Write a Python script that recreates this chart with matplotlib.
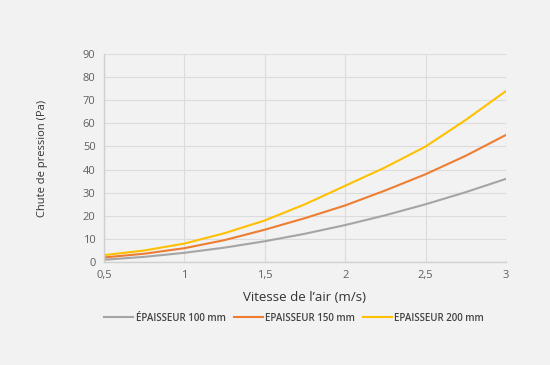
import matplotlib
matplotlib.use("Agg")
import matplotlib.pyplot as plt
import numpy as np

plt.rcParams['font.family'] = ['Open Sans', 'DejaVu Sans']

x = [0.5, 0.75, 1.0, 1.25, 1.5, 1.75, 2.0, 2.25, 2.5, 2.75, 3.0]
y100 = [1.0, 2.25, 4.0, 6.25, 9.0, 12.25, 16.0, 20.25, 25.0, 30.25, 36.0]
y150 = [2.0, 3.6, 6.0, 9.5, 14.0, 19.0, 24.5, 31.0, 38.0, 46.0, 55.0]
y200 = [3.0, 5.0, 8.0, 12.5, 18.0, 25.0, 33.0, 41.0, 50.0, 61.5, 74.0]
labels = ["ÉPAISSEUR 100 mm", "EPAISSEUR 150 mm", "EPAISSEUR 200 mm"]
colors = ["#a5a5a5", "#ed7d31", "#ffc000"]
xticks = [0.5, 1, 1.5, 2, 2.5, 3]
xticklabels = ["0,5", "1", "1,5", "2", "2,5", "3"]
yticks = list(range(0, 100, 10))

bg = "#f2f2f2"
fig = plt.figure(figsize=(5.5, 3.65), dpi=100, facecolor=bg)
ax = fig.add_axes([0.189, 0.282, 0.731, 0.57], facecolor=bg)

for ys, lab, c in zip([y100, y150, y200], labels, colors):
    ax.plot(x, ys, color=c, lw=1.5, label=lab, solid_joinstyle="round")

ax.set_xlim(0.5, 3)
ax.set_ylim(0, 90)
ax.set_xticks(xticks)
ax.set_xticklabels(xticklabels)
ax.set_yticks(yticks)
ax.grid(True, color="#dcdcdc", lw=0.8)
ax.set_axisbelow(True)
for s in ["top", "right"]:
    ax.spines[s].set_visible(False)
for s in ["left", "bottom"]:
    ax.spines[s].set_color("#d0d0d0")
    ax.spines[s].set_linewidth(1.0)
ax.tick_params(length=0, labelsize=8, colors="#606060", pad=6)

ax.set_xlabel("Vitesse de l’air (m/s)", fontsize=9.5, color="#333333", labelpad=7)
ax.set_ylabel("Chute de pression (Pa)", fontsize=8, color="#333333", labelpad=25)

fig.legend(loc="center", bbox_to_anchor=(0.535, 0.128), ncol=3, frameon=False,
           handlelength=3.0, handletextpad=0.25, columnspacing=0.8,
           prop={'size': 7, 'weight': 'semibold'}, labelcolor="#444444")

fig.savefig("out.png", dpi=100, facecolor=bg)
